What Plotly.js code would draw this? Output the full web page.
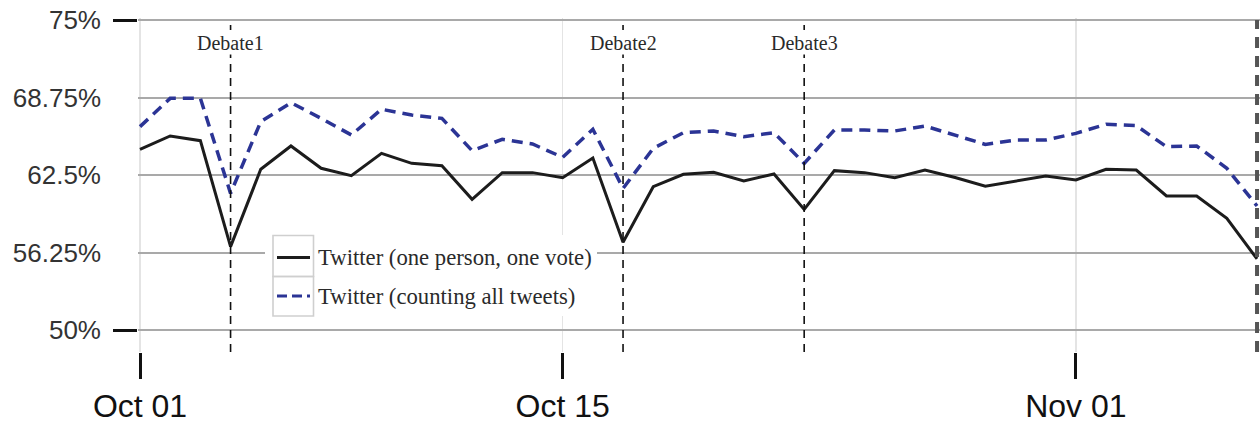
<!DOCTYPE html>
<html>
<head>
<meta charset="utf-8">
<script src="https://cdn.plot.ly/plotly-3.0.1.min.js"></script>
<style>html,body{margin:0;padding:0;background:#fff;}#chart{width:1260px;height:425px;}</style>
</head>
<body>
<div id="chart"></div>
<script>
// ---- data ----
const dates = [
  '2012-10-01','2012-10-02','2012-10-03','2012-10-04','2012-10-05','2012-10-06','2012-10-07',
  '2012-10-08','2012-10-09','2012-10-10','2012-10-11','2012-10-12','2012-10-13','2012-10-14',
  '2012-10-15','2012-10-16','2012-10-17','2012-10-18','2012-10-19','2012-10-20','2012-10-21',
  '2012-10-22','2012-10-23','2012-10-24','2012-10-25','2012-10-26','2012-10-27','2012-10-28',
  '2012-10-29','2012-10-30','2012-10-31','2012-11-01','2012-11-02','2012-11-03','2012-11-04',
  '2012-11-05','2012-11-06','2012-11-07'
];
const onePersonOneVote = [64.57,65.65,65.27,56.72,62.96,64.84,63.04,62.44,64.25,63.44,63.25,60.54,62.69,62.69,62.28,63.87,57.07,61.56,62.56,62.72,62.02,62.58,59.73,62.85,62.69,62.28,62.9,62.3,61.6,62.04,62.42,62.1,62.96,62.9,60.81,60.81,59.0,55.73];
const countingAllTweets = [66.4,68.68,68.68,61.02,66.8,68.33,67.07,65.73,67.8,67.34,67.07,64.46,65.38,65.0,63.93,66.19,61.42,64.65,65.91,66.05,65.59,65.91,63.44,66.13,66.13,66.05,66.45,65.73,64.97,65.32,65.32,65.86,66.59,66.48,64.78,64.84,63.04,60.0];
const seriesNames = ['Twitter (one person, one vote)', 'Twitter (counting all tweets)'];
const debateDates = ['2012-10-04','2012-10-17','2012-10-23'];
const debateLabels = ['Debate1','Debate2','Debate3'];
const electionDate = '2012-11-07';
const yTickVals = [50, 56.25, 62.5, 68.75, 75];
const yTickText = ['50%','56.25%','62.5%','68.75%','75%'];
const xTickVals = ['2012-10-01','2012-10-15','2012-11-01'];
const xTickText = ['Oct 01','Oct 15','Nov 01'];

// ---- geometry helpers (pixel -> paper) ----
const W = 1260, H = 425;
const L = 138, R = 0, T = 18, B = 73;
const PW = W - L - R, PH = H - T - B;
const px = v => (v - L) / PW;
const py = v => (H - B - v) / PH;

const DAY = 86400000;
const pxPerDay = 30.19;
const t0 = Date.UTC(2012, 9, 1);
const fmt = ms => new Date(ms).toISOString().replace('T',' ').slice(0,19);
const xRange = [fmt(t0 - (140 - L) / pxPerDay * DAY), fmt(t0 + (W - R - 140) / pxPerDay * DAY)];
const pxPerPct = 12.4;
const yTop = 75 + (20 - T) / pxPerPct;
const yRange = [yTop - PH / pxPerPct, yTop];

const traces = [
  {x: dates, y: onePersonOneVote, name: seriesNames[0], type: 'scatter', mode: 'lines',
   line: {color: '#1c1c1c', width: 3}, hoverinfo: 'skip'},
  {x: dates, y: countingAllTweets, name: seriesNames[1], type: 'scatter', mode: 'lines',
   line: {color: '#2b3495', width: 3.5, dash: '11px,7px'}, hoverinfo: 'skip'},
  // invisible trace to bring yaxis2 (ticks at 50 / 75) to life
  {x: [dates[0]], y: [50], xaxis: 'x', yaxis: 'y2', mode: 'markers', marker: {opacity: 0}, showlegend: false, hoverinfo: 'skip'}
];

const shapes = [];
const annotations = [];
debateDates.forEach((d, i) => {
  shapes.push({type: 'line', xref: 'x', yref: 'paper', x0: d, x1: d, y0: 0, y1: py(25),
    line: {color: '#111', width: 1.6, dash: '8px,6px'}});
  annotations.push({xref: 'x', yref: 'paper', x: d, y: py(43), text: debateLabels[i], showarrow: false,
    xanchor: 'center', yanchor: 'middle', bgcolor: '#ffffff', borderpad: 0,
    font: {family: 'Liberation Serif, Times New Roman, serif', size: 20, color: '#2a2a2a'}});
});
shapes.push({type: 'line', xref: 'x', yref: 'paper', x0: electionDate, x1: electionDate, y0: 0, y1: py(20),
  line: {color: '#555', width: 4, dash: '11px,8px'}});

// custom legend
shapes.push({type: 'rect', xref: 'paper', yref: 'paper', x0: px(265), x1: px(597), y0: py(316), y1: py(235),
  fillcolor: '#ffffff', line: {width: 0}, layer: 'above'});
shapes.push({type: 'rect', xref: 'paper', yref: 'paper', x0: px(273), x1: px(313.5), y0: py(276.5), y1: py(235.5),
  fillcolor: 'rgba(0,0,0,0)', line: {color: '#cfcfcf', width: 1.6}, layer: 'above'});
shapes.push({type: 'rect', xref: 'paper', yref: 'paper', x0: px(273), x1: px(313.5), y0: py(316), y1: py(276.5),
  fillcolor: 'rgba(0,0,0,0)', line: {color: '#cfcfcf', width: 1.6}, layer: 'above'});
shapes.push({type: 'line', xref: 'paper', yref: 'paper', x0: px(277), x1: px(310), y0: py(257.5), y1: py(257.5),
  line: {color: traces[0].line.color, width: 3}, layer: 'above'});
shapes.push({type: 'line', xref: 'paper', yref: 'paper', x0: px(277), x1: px(310), y0: py(296), y1: py(296),
  line: {color: traces[1].line.color, width: 3, dash: '10px,5px'}, layer: 'above'});
[257.5, 296].forEach((yy, i) => {
  annotations.push({xref: 'paper', yref: 'paper', x: px(316), y: py(yy), text: seriesNames[i], showarrow: false,
    xanchor: 'left', yanchor: 'middle',
    font: {family: 'Liberation Serif, Times New Roman, serif', size: 22.7, color: '#2a2a2a'}});
});

const layout = {
  width: W, height: H,
  margin: {l: L, r: R, t: T, b: B, pad: 0},
  paper_bgcolor: '#fff', plot_bgcolor: '#fff',
  showlegend: false,
  xaxis: {
    type: 'date', range: xRange, tickmode: 'array', tickvals: xTickVals, ticktext: xTickText,
    ticks: 'outside', ticklen: 26, tickwidth: 3, tickcolor: '#111',
    showgrid: true, gridcolor: '#e4e4e4', gridwidth: 1.5, zeroline: false, showline: false,
    ticklabelstandoff: 0,
    tickfont: {family: 'Liberation Sans, Arial, sans-serif', size: 32, color: '#111'}
  },
  yaxis: {
    range: yRange, tickmode: 'array', tickvals: yTickVals, ticktext: yTickText,
    ticks: '', showgrid: true, gridcolor: '#a9a9a9', gridwidth: 2, zeroline: false, showline: false,
    ticklabelstandoff: 36,
    tickfont: {family: 'Liberation Sans, Arial, sans-serif', size: 26, color: '#333'}
  },
  yaxis2: {
    range: yRange, overlaying: 'y', side: 'left', tickmode: 'array', tickvals: [50, 75],
    ticks: 'outside', ticklen: 24, tickwidth: 3, tickcolor: '#111', showticklabels: false,
    showgrid: false, zeroline: false, showline: false
  },
  shapes: shapes,
  annotations: annotations
};

Plotly.newPlot('chart', traces, layout, {staticPlot: true, displayModeBar: false});
</script>
</body>
</html>
